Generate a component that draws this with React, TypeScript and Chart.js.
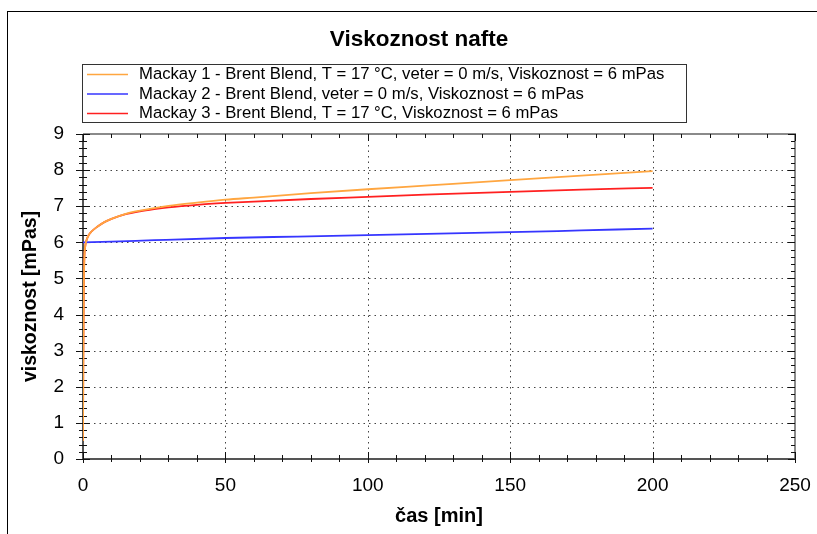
import React, { useEffect, useRef } from 'react';
import { Chart, registerables } from 'chart.js';
Chart.register(...registerables);

const chartTitle = 'Viskoznost nafte';
const xAxisTitle = 'čas [min]';
const yAxisTitle = 'viskoznost [mPas]';
const seriesLabels = [
  'Mackay 1 - Brent Blend, T = 17 °C, veter = 0 m/s, Viskoznost = 6 mPas',
  'Mackay 2 - Brent Blend, veter = 0 m/s, Viskoznost = 6 mPas',
  'Mackay 3 - Brent Blend, T = 17 °C, Viskoznost = 6 mPas',
];
const seriesColors = ['#FFA640', '#3636FF', '#FF2020'];

const times1 = [0, 0.1, 0.25, 0.45, 0.8, 1.2, 2, 3, 5, 7.5, 10, 15, 20, 25, 30, 40, 50, 60, 80, 100, 120, 150, 175, 200];
const mackay1 = [0.5, 2.5, 4.5, 5.5, 5.9, 6.05, 6.2, 6.3, 6.43, 6.56, 6.65, 6.79, 6.88, 6.95, 7.01, 7.1, 7.18, 7.24, 7.36, 7.47, 7.57, 7.72, 7.85, 7.97];
const times3 = [0, 0.1, 0.25, 0.45, 0.8, 1.2, 2, 3, 5, 7.5, 10, 15, 20, 25, 30, 40, 50, 60, 80, 100, 120, 150, 175, 200];
const mackay3 = [0.5, 2.5, 4.5, 5.5, 5.9, 6.05, 6.2, 6.3, 6.43, 6.56, 6.65, 6.78, 6.86, 6.92, 6.97, 7.04, 7.09, 7.13, 7.2, 7.26, 7.32, 7.4, 7.46, 7.51];
const times2 = [0, 10, 25, 50, 75, 100, 125, 150, 175, 200];
const mackay2 = [6.0, 6.02, 6.06, 6.12, 6.16, 6.2, 6.24, 6.28, 6.33, 6.38];

const xMin = 0, xMax = 250, xMajor = 50, xMinor = 10;
const yMin = 0, yMax = 9, yMajor = 1, yMinor = 0.2;

const FONT = '"Liberation Sans", Arial, sans-serif';

const decorPlugin = {
  id: 'decor',
  beforeDatasetsDraw(chart: any) {
    const { ctx, chartArea: ca, scales } = chart;
    const xs = scales.x, ys = scales.y;
    ctx.save();
    // dotted grid
    ctx.strokeStyle = '#444';
    ctx.lineWidth = 1;
    ctx.setLineDash([1.5, 4]);
    for (let v = xMin + xMajor; v < xMax; v += xMajor) {
      const x = Math.round(xs.getPixelForValue(v)) + 0.5;
      ctx.beginPath(); ctx.moveTo(x, ca.top); ctx.lineTo(x, ca.bottom); ctx.stroke();
    }
    for (let v = yMin + yMajor; v < yMax; v += yMajor) {
      const y = Math.round(ys.getPixelForValue(v)) + 0.5;
      ctx.beginPath(); ctx.moveTo(ca.left, y); ctx.lineTo(ca.right, y); ctx.stroke();
    }
    ctx.setLineDash([]);
    // axis box
    ctx.lineWidth = 2;
    ctx.strokeStyle = '#8a8a8a';
    ctx.beginPath(); ctx.moveTo(ca.left, ca.top); ctx.lineTo(ca.right, ca.top); ctx.lineTo(ca.right, ca.bottom); ctx.stroke();
    ctx.strokeStyle = '#555';
    ctx.beginPath(); ctx.moveTo(ca.left, ca.top); ctx.lineTo(ca.left, ca.bottom); ctx.lineTo(ca.right, ca.bottom); ctx.stroke();
    // tick marks
    ctx.strokeStyle = '#111';
    ctx.lineWidth = 1;
    const nx = Math.round((xMax - xMin) / xMinor);
    for (let i = 0; i <= nx; i++) {
      const v = xMin + i * xMinor;
      const major = Math.abs(v / xMajor - Math.round(v / xMajor)) < 1e-6;
      const x = Math.round(xs.getPixelForValue(v)) + 0.5;
      ctx.beginPath();
      ctx.moveTo(x, ca.bottom - (major ? 7 : 4)); ctx.lineTo(x, ca.bottom + (major ? 4 : 3));
      ctx.moveTo(x, ca.top); ctx.lineTo(x, ca.top + (major ? 7 : 4));
      ctx.stroke();
    }
    const ny = Math.round((yMax - yMin) / yMinor);
    for (let i = 0; i <= ny; i++) {
      const v = yMin + i * yMinor;
      const major = Math.abs(v / yMajor - Math.round(v / yMajor)) < 1e-6;
      const y = Math.round(ys.getPixelForValue(v)) + 0.5;
      ctx.beginPath();
      ctx.moveTo(ca.left - (major ? 7 : 4), y); ctx.lineTo(ca.left + (major ? 7 : 4), y);
      ctx.moveTo(ca.right, y); ctx.lineTo(ca.right - (major ? 7 : 4), y);
      ctx.stroke();
    }
    ctx.restore();
  },
  afterDraw(chart: any) {
    const { ctx, chartArea: ca } = chart;
    ctx.save();
    // outer frame
    ctx.strokeStyle = '#000';
    ctx.lineWidth = 1;
    ctx.strokeRect(7.5, 11.5, 2000, 2000);
    // title
    ctx.fillStyle = '#000';
    ctx.textAlign = 'center';
    ctx.textBaseline = 'middle';
    ctx.font = `bold 22.5px ${FONT}`;
    ctx.fillText(chartTitle, 419, 40);
    // axis titles
    ctx.font = `bold 20px ${FONT}`;
    ctx.fillText(xAxisTitle, (ca.left + ca.right) / 2, 516);
    ctx.font = `bold 19.5px ${FONT}`;
    ctx.save();
    ctx.translate(31, (ca.top + ca.bottom) / 2);
    ctx.rotate(-Math.PI / 2);
    ctx.fillText(yAxisTitle, 0, 0);
    ctx.restore();
    // legend
    ctx.strokeStyle = '#333';
    ctx.strokeRect(82.5, 64.5, 604, 58);
    ctx.font = `16.7px ${FONT}`;
    ctx.textAlign = 'left';
    chart.data.datasets.forEach((ds: any, i: number) => {
      const y = 74.5 + i * 19.5;
      ctx.strokeStyle = ds.borderColor;
      ctx.lineWidth = 1.5;
      ctx.beginPath(); ctx.moveTo(87, y); ctx.lineTo(128, y); ctx.stroke();
      ctx.fillStyle = '#000';
      ctx.fillText(ds.label, 139, y);
    });
    ctx.restore();
  },
};

export default function App() {
  const ref = useRef<HTMLCanvasElement>(null);
  useEffect(() => {
    const mk = (t: number[], v: number[]) => t.map((x, i) => ({ x, y: v[i] }));
    const chart = new Chart(ref.current!, {
      type: 'line',
      data: {
        datasets: [
          { label: seriesLabels[0], data: mk(times1, mackay1), borderColor: seriesColors[0] },
          { label: seriesLabels[1], data: mk(times2, mackay2), borderColor: seriesColors[1] },
          { label: seriesLabels[2], data: mk(times3, mackay3), borderColor: seriesColors[2] },
        ].map((d) => ({ ...d, borderWidth: 1.8, pointRadius: 0, fill: false, cubicInterpolationMode: 'monotone' as const })),
      },
      options: {
        animation: false,
        responsive: false,
        devicePixelRatio: 1,
        layout: { padding: { top: 134, left: 0, right: 22, bottom: 0 }, autoPadding: false },
        plugins: { legend: { display: false }, title: { display: false }, tooltip: { enabled: false } },
        scales: {
          x: {
            type: 'linear', min: xMin, max: xMax,
            grid: { display: false, drawTicks: false },
            border: { display: false },
            ticks: { stepSize: xMajor, color: '#000', font: { size: 19, family: FONT }, padding: 15, maxRotation: 0 },
            afterFit: (s: any) => { s.height = 75; s.paddingLeft = 0; s.paddingRight = 0; },
          },
          y: {
            type: 'linear', min: yMin, max: yMax,
            grid: { display: false, drawTicks: false },
            border: { display: false },
            ticks: { stepSize: yMajor, color: '#000', font: { size: 19, family: FONT }, padding: 19 },
            afterFit: (s: any) => { s.width = 83; s.paddingTop = 0; s.paddingBottom = 0; },
          },
        },
      },
      plugins: [decorPlugin],
    });
    return () => chart.destroy();
  }, []);
  return (
    <div style={{ position: 'absolute', left: 0, top: 0, width: 817, height: 534, background: '#fff' }}>
      <canvas ref={ref} width={817} height={534} />
    </div>
  );
}
